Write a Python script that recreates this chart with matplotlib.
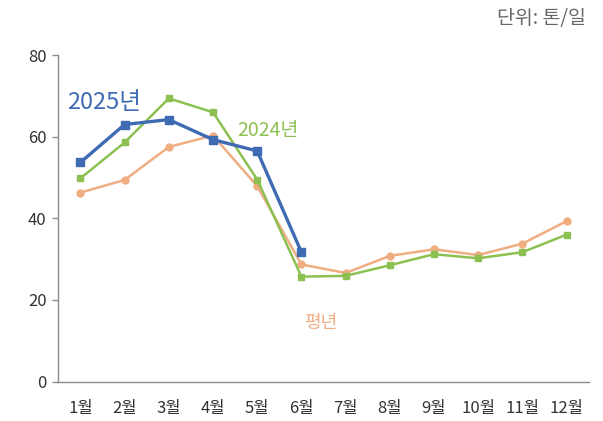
import matplotlib.pyplot as plt

plt.rcParams['font.family'] = ['Noto Sans CJK KR', 'DejaVu Sans']

months = ['1월', '2월', '3월', '4월', '5월', '6월', '7월', '8월', '9월', '10월', '11월', '12월']
y2025 = [53.7, 63.0, 64.2, 59.3, 56.5, 31.7]
y2024 = [49.8, 58.6, 69.4, 66.0, 49.5, 25.7, 25.9, 28.5, 31.2, 30.2, 31.7, 36.0]
normal = [46.3, 49.4, 57.5, 60.3, 47.9, 28.7, 26.6, 30.8, 32.4, 31.0, 33.8, 39.3]

c25 = '#3F6BB3'
c24 = '#8CC152'
cnm = '#F0AD82'


def main():
    fig = plt.figure(figsize=(6.03, 4.21), dpi=100)
    ax = fig.add_axes([0.0967, 0.0938, 0.9763 - 0.0967, 0.869 - 0.0938])

    x = list(range(1, 13))
    ax.plot(x, normal, color=cnm, lw=1.8, marker='o', ms=5, zorder=2)
    ax.plot(x, y2024, color=c24, lw=1.8, marker='s', ms=5, zorder=3)
    ax.plot(x[:len(y2025)], y2025, color=c25, lw=2.4, marker='s', ms=6, zorder=4)

    ax.set_xlim(0.5, 12.5)
    ax.set_ylim(0, 80)
    ax.set_yticks([0, 20, 40, 60, 80])
    ax.set_xticks(x)
    ax.set_xticklabels(months)

    for s in ['top', 'right']:
        ax.spines[s].set_visible(False)
    for s in ['left', 'bottom']:
        ax.spines[s].set_color('#8c8c8c')
        ax.spines[s].set_linewidth(1.0)
    ax.tick_params(axis='y', length=4.5, width=1, color='#8c8c8c', pad=4,
                   labelsize=12, labelcolor='#333333')
    ax.tick_params(axis='x', length=0, pad=13, labelsize=12, labelcolor='#333333')

    ax.text(0.7, 68.5, '2025년', color=c25, fontsize=17, va='center', ha='left')
    ax.text(4.55, 61.6, '2024년', color=c24, fontsize=14, va='center', ha='left')
    ax.text(6.06, 14.3, '평년', color=cnm, fontsize=13, va='center', ha='left')

    fig.text(0.972, 0.955, '단위: 톤/일', color='#666666', fontsize=14,
             ha='right', va='center')

    fig.savefig('out.png', dpi=100)


if __name__ == '__main__':
    main()
